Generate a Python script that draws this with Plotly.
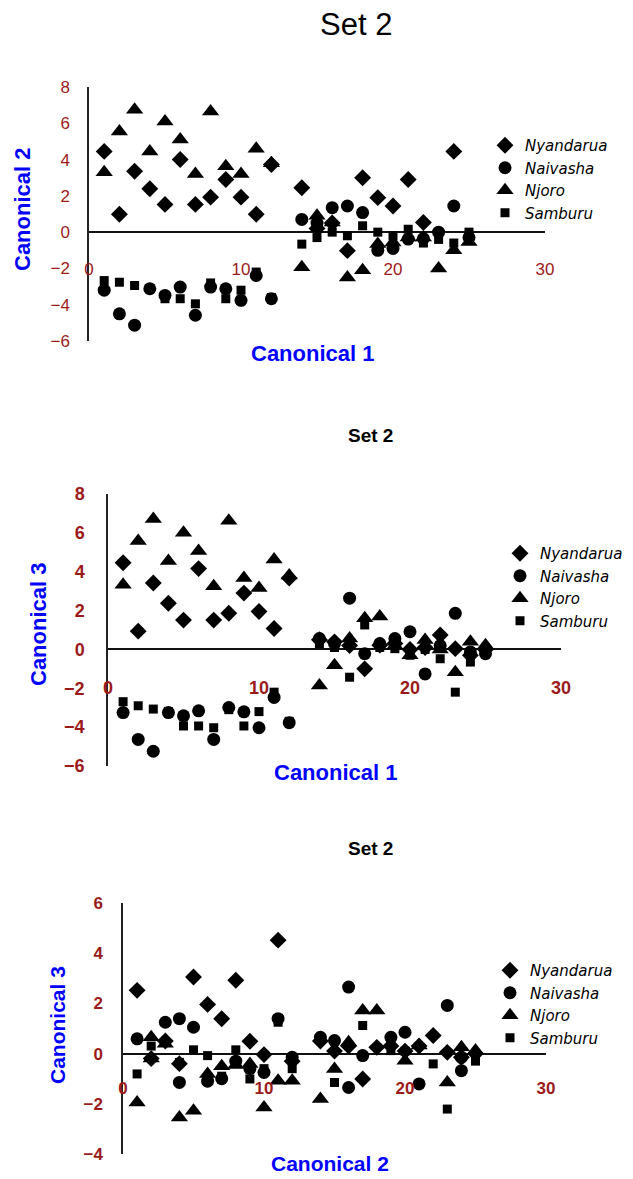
import plotly.graph_objects as go

W, H = 633, 1179
PAGE_OFFSET = 8  # default body margin of the page

# ---------------- data ----------------
series_names = ["Nyandarua", "Naivasha", "Njoro", "Samburu"]

# Panel 1: Canonical 1 (x) vs Canonical 2 (y)
p1_nyandarua_x = [1, 2, 3, 4, 5, 6, 7, 8, 9, 10, 11, 12, 14, 15, 16, 17, 18, 19, 20, 21, 22, 24]
p1_nyandarua_y = [4.45, 0.99, 3.36, 2.39, 1.53, 4.0, 1.53, 1.93, 2.9, 1.93, 0.99, 3.73,
                  2.45, 0.2, 0.5, -1.02, 3.0, 1.9, 1.44, 2.9, 0.53, 4.45]
p1_naivasha_x = [1, 2, 3, 4, 5, 6, 7, 8, 9, 10, 11, 12, 14, 15, 16, 17, 18, 19, 20, 21, 22, 23, 24, 25]
p1_naivasha_y = [-3.2, -4.5, -5.13, -3.12, -3.49, -3.03, -4.58, -3.03, -3.12, -3.76, -2.39, -3.67,
                 0.7, 0.5, 1.35, 1.44, 1.08, -1.0, -0.9, -0.38, -0.35, 0.0, 1.44, -0.3]
p1_njoro_x = [1, 2, 3, 4, 5, 6, 7, 8, 9, 10, 11, 12, 14, 15, 16, 17, 18, 19, 20, 21, 22, 23, 24, 25]
p1_njoro_y = [3.3, 5.55, 6.74, 4.45, 6.1, 5.1, 3.2, 6.65, 3.63, 3.2, 4.6, 3.8,
              -1.93, 0.9, 0.53, -2.5, -2.1, -0.65, -0.57, -0.3, -0.3, -2.0, -1.0, -0.55]
p1_samburu_x = [1, 2, 3, 4, 5, 6, 7, 8, 9, 10, 11, 12, 14, 15, 16, 17, 18, 19, 20, 21, 22, 23, 24, 25]
p1_samburu_y = [-2.67, -2.76, -2.94, -3.1, -3.67, -3.67, -3.95, -2.8, -3.67, -3.2, -2.2, -3.6,
                -0.66, -0.3, 0.0, -0.2, 0.35, 0.0, -0.2, 0.16, -0.6, -0.4, -0.6, 0.0]

# Panel 2: Canonical 1 (x) vs Canonical 3 (y)
p2_nyandarua_x = [1, 2, 3, 4, 5, 6, 7, 8, 9, 10, 11, 12, 14, 15, 16, 17, 18, 19, 20, 21, 22, 23, 24, 25]
p2_nyandarua_y = [4.46, 0.94, 3.42, 2.38, 1.51, 4.16, 1.51, 1.86, 2.9, 1.95, 1.08, 3.68,
                  0.5, 0.39, 0.2, -1.0, 0.22, 0.3, 0.0, 0.1, 0.74, 0.04, -0.3, 0.0]
p2_naivasha_x = [1, 2, 3, 4, 5, 6, 7, 8, 9, 10, 11, 12, 14, 15, 16, 17, 18, 19, 20, 21, 22, 23, 24, 25]
p2_naivasha_y = [-3.25, -4.63, -5.24, -3.25, -3.42, -3.16, -4.63, -2.99, -3.21, -4.03, -2.47, -3.77,
                 0.56, 0.3, 2.64, -0.22, 0.3, 0.56, 0.91, -1.26, 0.2, 1.86, -0.13, -0.22]
p2_njoro_x = [1, 2, 3, 4, 5, 6, 7, 8, 9, 10, 11, 12, 14, 15, 16, 17, 18, 19, 20, 21, 22, 23, 24, 25]
p2_njoro_y = [3.33, 5.58, 6.71, 4.55, 6.0, 5.06, 3.25, 6.62, 3.68, 3.16, 4.63, 3.8,
              -1.86, -0.82, 0.56, 1.6, 1.69, 0.2, -0.3, 0.48, 0.0, -1.17, 0.39, 0.22]
p2_samburu_x = [1, 2, 3, 4, 5, 6, 7, 8, 9, 10, 11, 12, 14, 15, 16, 17, 18, 19, 20, 21, 22, 23, 24, 25]
p2_samburu_y = [-2.69, -2.9, -3.07, -3.2, -3.94, -3.94, -4.03, -3.1, -3.94, -3.2, -2.2, -3.7,
                0.3, 0.1, -1.43, 1.26, 0.1, 0.04, -0.3, 0.0, -0.48, -2.2, -0.65, -0.1]

# Panel 3: Canonical 2 (x) vs Canonical 3 (y)
p3_nyandarua_x = [1, 2, 3, 4, 5, 6, 7, 8, 9, 10, 11, 12, 14, 15, 16, 17, 18, 19, 20, 21, 22, 23, 24, 25]
p3_nyandarua_y = [2.52, -0.2, 0.5, -0.4, 3.05, 1.96, 1.39, 2.92, 0.49, -0.04, 4.52, -0.3,
                  0.5, 0.1, 0.3, -1.01, 0.25, 0.3, 0.1, 0.3, 0.72, 0.05, -0.15, 0.0]
p3_naivasha_x = [1, 3, 4, 4, 5, 6, 7, 8, 9, 10, 11, 12, 14, 15, 16, 16, 17, 19, 20, 21, 23, 24, 24]
p3_naivasha_y = [0.59, 1.25, 1.39, -1.15, 1.05, -1.1, -1.0, -0.3, -0.6, -0.75, 1.39, -0.15,
                 0.65, 0.52, 2.65, -1.35, -0.08, 0.65, 0.85, -1.21, 1.92, -0.68, -0.15]
p3_njoro_x = [1, 2, 2, 3, 4, 5, 6, 7, 8, 9, 10, 11, 12, 14, 15, 16, 17, 18, 20, 21, 23, 24, 25]
p3_njoro_y = [-1.95, 0.65, -0.2, 0.39, -2.55, -2.28, -0.81, -0.5, -0.45, -0.41, -2.15, -1.08, -1.08,
              -1.81, -0.61, 0.45, 1.72, 1.72, -0.28, 0.32, -1.15, 0.25, 0.12]
p3_samburu_x = [1, 2, 4, 5, 6, 7, 8, 9, 10, 11, 12, 15, 17, 19, 20, 22, 23, 25]
p3_samburu_y = [-0.81, 0.3, -0.35, 0.15, -0.08, -0.9, 0.15, -1.01, -0.6, 1.25, -0.6,
                -1.15, 1.12, 0.12, 0.1, -0.41, -2.21, -0.3]

x_ticks = [0, 10, 20, 30]

panels = [
    dict(xa="x", ya="y", xo="x2", legend="legend",
         data=[(p1_nyandarua_x, p1_nyandarua_y), (p1_naivasha_x, p1_naivasha_y),
               (p1_njoro_x, p1_njoro_y), (p1_samburu_x, p1_samburu_y)]),
    dict(xa="x3", ya="y2", xo="x4", legend="legend2",
         data=[(p2_nyandarua_x, p2_nyandarua_y), (p2_naivasha_x, p2_naivasha_y),
               (p2_njoro_x, p2_njoro_y), (p2_samburu_x, p2_samburu_y)]),
    dict(xa="x5", ya="y3", xo="x6", legend="legend3",
         data=[(p3_nyandarua_x, p3_nyandarua_y), (p3_naivasha_x, p3_naivasha_y),
               (p3_njoro_x, p3_njoro_y), (p3_samburu_x, p3_samburu_y)]),
]

symbols = ["diamond", "circle", "triangle-up", "square"]
sizes = [13, 13, 15, 9]

fig = go.Figure()
for p in panels:
    for name, (xs, ys), sym, sz in zip(series_names, p["data"], symbols, sizes):
        fig.add_trace(go.Scatter(
            x=xs, y=ys, mode="markers", name=name,
            marker=dict(symbol=sym, size=sz, color="black", line=dict(width=0)),
            xaxis=p["xa"], yaxis=p["ya"], legend=p["legend"], cliponaxis=False,
        ))
    # carrier trace for the tick-label axis
    fig.add_trace(go.Scatter(x=[], y=[], xaxis=p["xo"], yaxis=p["ya"],
                             showlegend=False, hoverinfo="skip"))

def px_to_paper_x(px):
    return (px - PAGE_OFFSET) / W

def py_to_paper_y(py):
    return 1 - (py - PAGE_OFFSET) / H

RED = "#9B1B1B"
BLUE = "#0000FF"
FONT = "Liberation Sans, Arial, sans-serif"
LEGFONT = "DejaVu Sans, sans-serif"

# domains in screen pixels: x=(left, right), y=(top, bottom)
doms = [
    dict(x=(89, 545), y=(87, 341), yr=[-6, 8], ydt=2, lab_py=257, bold=False, fs=17, standoff=14),
    dict(x=(108, 561), y=(494, 766), yr=[-6, 8], ydt=2, lab_py=675, bold=True, fs=18, standoff=18),
    dict(x=(123, 546), y=(903, 1154), yr=[-4, 6], ydt=2, lab_py=1076, bold=True, fs=17, standoff=15),
]
axnames = [("xaxis", "yaxis", "xaxis2", "x", "y"),
           ("xaxis3", "yaxis2", "xaxis4", "x3", "y2"),
           ("xaxis5", "yaxis3", "xaxis6", "x5", "y3")]

layout_axes = {}
for d, (xn, yn, xon, xref, yref) in zip(doms, axnames):
    xdom = [px_to_paper_x(d["x"][0]), px_to_paper_x(d["x"][1])]
    ydom = [py_to_paper_y(d["y"][1]), py_to_paper_y(d["y"][0])]
    tfont = dict(family=FONT, size=d["fs"], color=RED, weight="bold" if d["bold"] else "normal")
    layout_axes[xn] = dict(domain=xdom, range=[0, 30], anchor=yref, showline=False,
                           zeroline=False, showgrid=False, showticklabels=False, ticks="",
                           automargin=False)
    layout_axes[xon] = dict(domain=xdom, range=[0, 30], overlaying=xref, anchor="free",
                            position=py_to_paper_y(d["lab_py"]), side="bottom",
                            tickvals=x_ticks, showline=False, zeroline=False, showgrid=False,
                            ticks="", tickfont=tfont, automargin=False)
    layout_axes[yn] = dict(domain=ydom, range=d["yr"], dtick=d["ydt"], anchor=xref,
                           showline=True, linecolor="#222222", linewidth=1.5,
                           zeroline=True, zerolinecolor="#111111", zerolinewidth=1.5,
                           showgrid=False, ticks="", tickfont=tfont,
                           ticklabelstandoff=d["standoff"], automargin=False)

legend_common = dict(bgcolor="rgba(0,0,0,0)", xanchor="left", yanchor="top",
                     font=dict(family=LEGFONT, size=15, color="black", style="italic"),
                     tracegroupgap=0, itemsizing="trace")

annotations = [
    dict(text="Set 2", x=px_to_paper_x(356), y=py_to_paper_y(25), font=dict(family=FONT, size=31, color="black")),
    dict(text="<b>Set 2</b>", x=px_to_paper_x(370), y=py_to_paper_y(435), font=dict(family=FONT, size=19, color="black")),
    dict(text="<b>Set 2</b>", x=px_to_paper_x(370), y=py_to_paper_y(848), font=dict(family=FONT, size=19, color="black")),
    dict(text="<b>Canonical 1</b>", x=px_to_paper_x(312), y=py_to_paper_y(353), font=dict(family=FONT, size=22, color=BLUE)),
    dict(text="<b>Canonical 2</b>", x=px_to_paper_x(23), y=py_to_paper_y(210), textangle=-90, font=dict(family=FONT, size=22, color=BLUE)),
    dict(text="<b>Canonical 1</b>", x=px_to_paper_x(335), y=py_to_paper_y(772), font=dict(family=FONT, size=22, color=BLUE)),
    dict(text="<b>Canonical 3</b>", x=px_to_paper_x(38), y=py_to_paper_y(625), textangle=-90, font=dict(family=FONT, size=22, color=BLUE)),
    dict(text="<b>Canonical 2</b>", x=px_to_paper_x(330), y=py_to_paper_y(1163), font=dict(family=FONT, size=21, color=BLUE)),
    dict(text="<b>Canonical 3</b>", x=px_to_paper_x(57), y=py_to_paper_y(1025), textangle=-90, font=dict(family=FONT, size=21, color=BLUE)),
]
for a in annotations:
    a.update(xref="paper", yref="paper", showarrow=False, xanchor="center", yanchor="middle")

fig.update_layout(
    width=W, height=H,
    margin=dict(l=0, r=0, t=0, b=0, autoexpand=False),
    paper_bgcolor="white", plot_bgcolor="white",
    font=dict(family=FONT),
    annotations=annotations,
    legend=dict(legend_common, x=px_to_paper_x(485), y=py_to_paper_y(129)),
    legend2=dict(legend_common, x=px_to_paper_x(500), y=py_to_paper_y(537)),
    legend3=dict(legend_common, x=px_to_paper_x(490), y=py_to_paper_y(954)),
    hovermode="closest",
    **layout_axes,
)

fig.write_html("out.html")
